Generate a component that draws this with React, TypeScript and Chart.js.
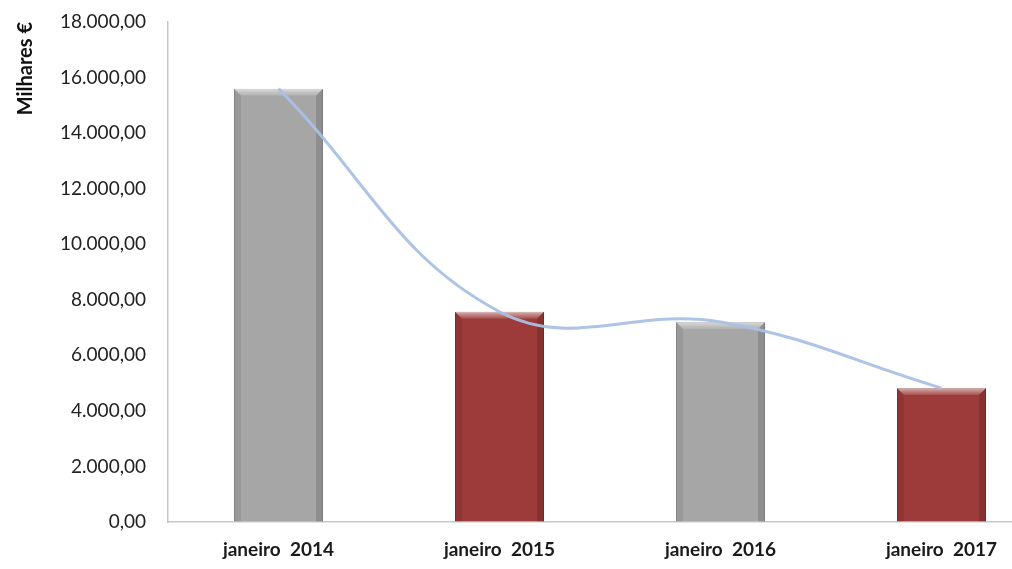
import React, { useEffect, useRef } from "react";
import { Chart, registerables } from "chart.js";

Chart.register(...registerables);

const categories = ["janeiro  2014", "janeiro  2015", "janeiro  2016", "janeiro  2017"];
const values = [15600, 7570, 7200, 4820];
const barColors = ["#a6a6a6", "#9c3b39", "#a6a6a6", "#9c3b39"];
const barEdgeColors = ["#8c8c8c", "#7f2c2a", "#8c8c8c", "#7f2c2a"];
const yMin = 0;
const yMax = 18000;
const yStep = 2000;
const yTitle = "Milhares €";

function fmt(v: number): string {
  const fixed = v.toFixed(2);
  const [intPart, dec] = fixed.split(".");
  const grouped = intPart.replace(/\B(?=(\d{3})+(?!\d))/g, ".");
  return grouped + "," + dec;
}

const bevelPlugin = {
  id: "bevel",
  afterDatasetDraw(chart: any, args: any) {
    if (args.index !== 0) return;
    const meta = chart.getDatasetMeta(0);
    const ctx = chart.ctx;
    ctx.save();
    meta.data.forEach((bar: any) => {
      const { x, y, base, width } = bar.getProps(["x", "y", "base", "width"], true);
      const l = x - width / 2;
      const r = x + width / 2;
      const b = 7;
      const g = ctx.createLinearGradient(0, y, 0, y + b);
      g.addColorStop(0, "rgba(255,255,255,0.6)");
      g.addColorStop(1, "rgba(255,255,255,0.1)");
      ctx.beginPath();
      ctx.moveTo(l, y);
      ctx.lineTo(r, y);
      ctx.lineTo(r - b, y + b);
      ctx.lineTo(l + b, y + b);
      ctx.closePath();
      ctx.fillStyle = g;
      ctx.fill();
      ctx.beginPath();
      ctx.moveTo(l, y);
      ctx.lineTo(l + b, y + b);
      ctx.lineTo(l + b, base);
      ctx.lineTo(l, base);
      ctx.closePath();
      ctx.fillStyle = "rgba(0,0,0,0.08)";
      ctx.fill();
      ctx.beginPath();
      ctx.moveTo(r, y);
      ctx.lineTo(r - b, y + b);
      ctx.lineTo(r - b, base);
      ctx.lineTo(r, base);
      ctx.closePath();
      ctx.fillStyle = "rgba(0,0,0,0.14)";
      ctx.fill();
    });
    ctx.restore();
  },
};

export default function App() {
  const ref = useRef<HTMLCanvasElement | null>(null);
  useEffect(() => {
    if (!ref.current) return;
    const chart = new Chart(ref.current, {
      type: "bar",
      data: {
        labels: categories,
        datasets: [
          {
            type: "bar",
            data: values,
            backgroundColor: barColors,
            borderColor: barEdgeColors,
            borderWidth: 1,
            categoryPercentage: 1,
            barPercentage: 0.403,
            order: 1,
          },
          {
            type: "line",
            data: values,
            borderColor: "rgba(170,192,228,0.95)",
            borderWidth: 3,
            pointRadius: 0,
            tension: 0.4,
            fill: false,
            order: 0,
          },
        ],
      } as any,
      plugins: [bevelPlugin],
      options: {
        responsive: false,
        animation: false,
        layout: { padding: { top: 22, right: 8, left: 0, bottom: 0 } },
        plugins: {
          legend: { display: false },
          tooltip: { enabled: false },
        },
        scales: {
          x: {
            offset: true,
            grid: { display: true, color: "rgba(0,0,0,0)", drawTicks: true, tickLength: 16 },
            border: { display: true, color: "#c8c8c8", width: 1.5 },
            ticks: {
              color: "#1a1a1a",
              padding: 0,
              font: { family: "Lato", size: 19, weight: "bold" },
              maxRotation: 0,
            },
            afterFit(scale: any) {
              scale.height = 47;
            },
          },
          y: {
            min: yMin,
            max: yMax,
            grid: { display: true, color: "rgba(0,0,0,0)", drawTicks: true, tickLength: 22 },
            border: { display: true, color: "#c8c8c8", width: 1.5 },
            ticks: {
              stepSize: yStep,
              color: "#222222",
              padding: 0,
              font: { family: "Lato", size: 19 },
              callback: (v: any) => fmt(Number(v)),
            },
            title: {
              display: true,
              text: yTitle,
              align: "end",
              color: "#111111",
              font: { family: "Lato", size: 20, weight: "bold" },
              padding: { top: 14, bottom: 0 },
            },
            afterFit(scale: any) {
              scale.width = 168;
            },
          },
        },
      } as any,
    });
    return () => chart.destroy();
  }, []);
  return (
    <div style={{ position: "fixed", left: 0, top: 0, width: 1012, height: 569, overflow: "hidden", background: "#fff" }}>
      <canvas ref={ref} width={1060} height={569} style={{ display: "block" }} />
    </div>
  );
}
